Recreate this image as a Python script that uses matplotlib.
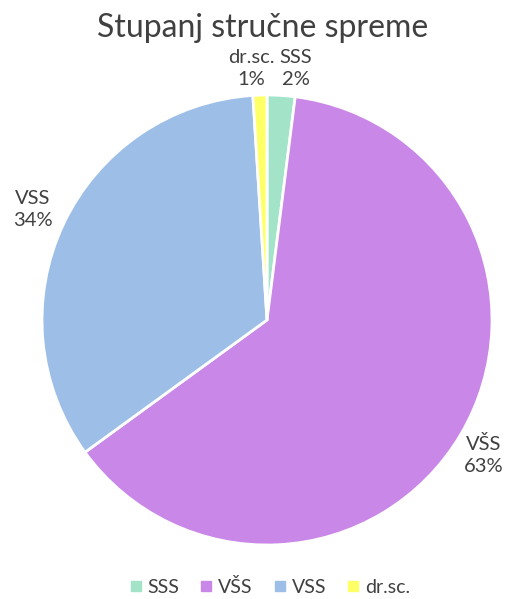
import matplotlib
matplotlib.use("Agg")
import matplotlib.pyplot as plt
import numpy as np
from matplotlib.lines import Line2D

categories = ["SSS", "VŠS", "VSS", "dr.sc."]
values = [2, 63, 34, 1]
pct_labels = ["2%", "63%", "34%", "1%"]
colors = ["#a3e4c9", "#c987e8", "#9dbfe7", "#ffff66"]

plt.rcParams['font.family'] = ['Lato', 'DejaVu Sans']
txt_color = "#404040"

fig = plt.figure(figsize=(5.07, 5.99), dpi=100)
W, H = 507, 599
cx, cy, R = 267, 320, 225
ax = fig.add_axes([(cx - R) / W, (H - cy - R) / H, 2 * R / W, 2 * R / H])
wedges, _ = ax.pie(values, colors=colors, startangle=90, counterclock=False,
                   wedgeprops=dict(edgecolor="white", linewidth=2))
ax.set_xlim(-1, 1)
ax.set_ylim(-1, 1)
ax.set_aspect("equal")

has = {"SSS": "left", "VŠS": "center", "VSS": "center", "dr.sc.": "right"}
dists = {"SSS": 1.12, "VŠS": 1.12, "VSS": 1.15, "dr.sc.": 1.12}
for w, cat, p in zip(wedges, categories, pct_labels):
    mid = np.deg2rad((w.theta1 + w.theta2) / 2)
    d = dists[cat]
    x, y = d * np.cos(mid), d * np.sin(mid)
    if cat == "SSS":
        x -= 0.015
    if cat == "dr.sc.":
        x += 0.07
    if cat == "VŠS":
        y -= 0.03
    ax.text(x, y, f"{cat}\n{p}", ha=has[cat], va="center", fontsize=14.5,
            color=txt_color, linespacing=1.35, clip_on=False,
            multialignment="center")

fig.text(263 / W, 1 - 28 / H, "Stupanj stručne spreme", ha="center", va="center",
         fontsize=23, color=txt_color)

handles = [Line2D([0], [0], marker="s", linestyle="none", markersize=7,
                  markerfacecolor=c, markeredgecolor=c) for c in colors]
fig.legend(handles, categories, loc="center", bbox_to_anchor=(268 / W, 1 - 587 / H),
           ncol=4, frameon=False, fontsize=14, handletextpad=0.1, columnspacing=0.9,
           handlelength=1.0, labelcolor=txt_color)

fig.savefig("out.png", dpi=100, facecolor="white")
